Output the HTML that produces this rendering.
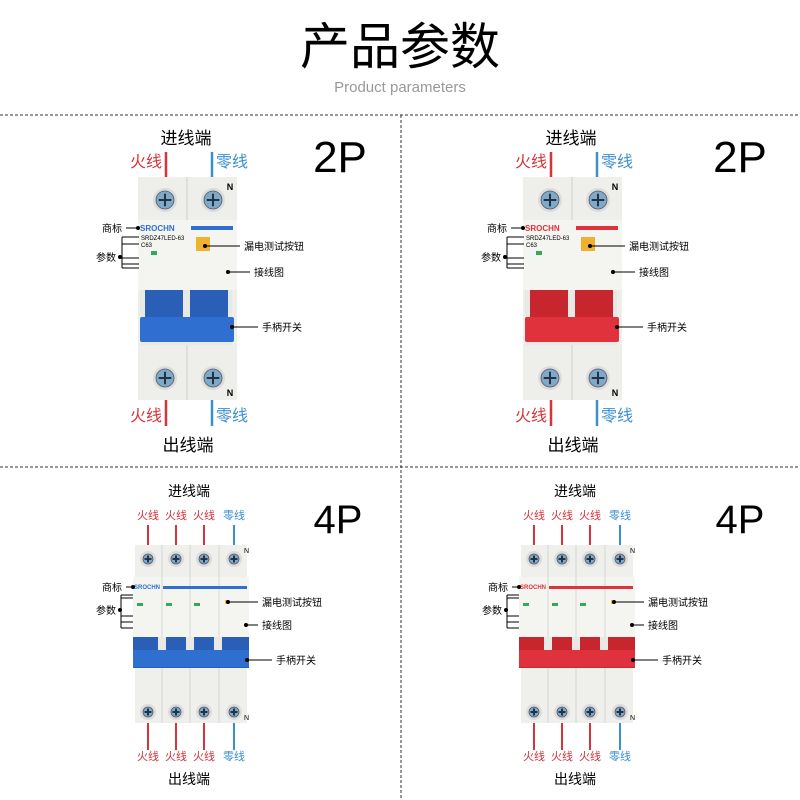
<!DOCTYPE html>
<html><head><meta charset="utf-8">
<style>
html,body{margin:0;padding:0;background:#fff;}
svg{display:block;font-family:"Liberation Sans","Noto Sans CJK SC",sans-serif;}
</style></head>
<body>
<svg id="s" width="800" height="800" viewBox="0 0 800 800" xmlns="http://www.w3.org/2000/svg">
<text x="400" y="64" font-size="50" text-anchor="middle" fill="#000" font-family="Noto Sans CJK SC, sans-serif">产品参数</text>
<text x="400" y="92" font-size="15" text-anchor="middle" fill="#999">Product parameters</text>
<line x1="0" y1="115" x2="800" y2="115" stroke="#333" stroke-dasharray="3,2"/>
<line x1="401" y1="115" x2="401" y2="800" stroke="#333" stroke-dasharray="3,2"/>
<line x1="0" y1="467" x2="800" y2="467" stroke="#333" stroke-dasharray="3,2"/>
<g id="g"></g>
</svg>
<script>
var R="#d6333a",B="#3a8fd0";
function screw(x,y,r){return `<circle cx="${x}" cy="${y}" r="${r+3}" fill="#dcdcdc"/><circle cx="${x}" cy="${y}" r="${r}" fill="#7fa9c9" stroke="#556" stroke-width="0.8"/><path d="M${x-r*0.7} ${y}H${x+r*0.7}M${x} ${y-r*0.7}V${y+r*0.7}" stroke="#234" stroke-width="2"/>`;}
function ann(x1,y,x2,label,anchorEnd){var t=anchorEnd?`<text x="${x1-4}" y="${y+4}" font-size="10" text-anchor="end">${label}</text>`:`<text x="${x2+4}" y="${y+4}" font-size="10">${label}</text>`;return `<line x1="${x1}" y1="${y}" x2="${x2}" y2="${y}" stroke="#000"/><circle cx="${anchorEnd?x2:x1}" cy="${y}" r="2" fill="#000"/>`+t;}
function p2(o,col,dk){
 var s=`<g transform="translate(${o},0)">`;
 s+=`<text x="186" y="144" font-size="17" text-anchor="middle">进线端</text>`;
 s+=`<text x="146" y="167" font-size="16" fill="${R}" text-anchor="middle">火线</text><line x1="166" y1="152" x2="166" y2="178" stroke="${R}" stroke-width="2.5"/>`;
 s+=`<text x="232" y="167" font-size="16" fill="${B}" text-anchor="middle">零线</text><line x1="212" y1="152" x2="212" y2="178" stroke="${B}" stroke-width="2.5"/>`;
 s+=`<rect x="138" y="177" width="99" height="223" fill="#eeeeea"/><line x1="187" y1="177" x2="187" y2="400" stroke="#cfcfcf"/>`;
 s+=`<rect x="138" y="220" width="99" height="70" fill="#f4f4f0"/>`;
 s+=screw(165,200,9)+screw(213,200,9)+screw(165,378,9)+screw(213,378,9);
 s+=`<text x="230" y="190" font-size="9" font-weight="bold" text-anchor="middle">N</text><text x="230" y="396" font-size="9" font-weight="bold" text-anchor="middle">N</text>`;
 s+=`<text x="140" y="231" font-size="8" fill="${col}" font-weight="bold">SROCHN</text><rect x="191" y="226" width="42" height="4" fill="${col}"/>`;
 s+=`<text x="141" y="240" font-size="6">SRDZ47LED-63</text><text x="141" y="247" font-size="6">C63</text><rect x="151" y="251" width="6" height="4" fill="#3a5"/>`;
 s+=`<rect x="196" y="237" width="14" height="14" fill="#f0b030"/>`;
 s+=`<rect x="140" y="290" width="92" height="55" fill="#e8e8e4"/><rect x="145" y="290" width="38" height="30" fill="${dk}"/><rect x="190" y="290" width="38" height="30" fill="${dk}"/>`;
 s+=`<rect x="140" y="317" width="94" height="25" rx="2" fill="${col}"/>`;
 s+=ann(126,228,138,"商标",true)+ann(120,257,120,"参数",true);
 s+=`<path d="M122 237V268M122 237H139M122 244H139M122 258H139M122 264H139M122 268H139" stroke="#000" fill="none"/>`;
 s+=ann(205,246,240,"漏电测试按钮",false)+ann(228,272,250,"接线图",false)+ann(232,327,258,"手柄开关",false);
 s+=`<text x="146" y="421" font-size="16" fill="${R}" text-anchor="middle">火线</text><line x1="166" y1="400" x2="166" y2="426" stroke="${R}" stroke-width="2.5"/>`;
 s+=`<text x="232" y="421" font-size="16" fill="${B}" text-anchor="middle">零线</text><line x1="212" y1="400" x2="212" y2="426" stroke="${B}" stroke-width="2.5"/>`;
 s+=`<text x="188" y="451" font-size="17" text-anchor="middle">出线端</text></g>`;
 return s;}
function p4(o,col,dk){
 var s=`<g transform="translate(${o},0)">`;
 s+=`<text x="189" y="496" font-size="14" text-anchor="middle">进线端</text>`;
 var xs=[148,176,204,234];
 xs.forEach(function(x,i){var c=i<3?R:B,l=i<3?"火线":"零线";
  s+=`<text x="${x}" y="519" font-size="11" fill="${c}" text-anchor="middle">${l}</text><line x1="${x}" y1="525" x2="${x}" y2="545" stroke="${c}" stroke-width="2"/>`;
  s+=`<text x="${x}" y="760" font-size="11" fill="${c}" text-anchor="middle">${l}</text><line x1="${x}" y1="723" x2="${x}" y2="750" stroke="${c}" stroke-width="2"/>`;});
 s+=`<rect x="135" y="545" width="112" height="178" fill="#efefec"/><rect x="133" y="577" width="116" height="60" fill="#f4f4f1"/>`;
 [162,190,219].forEach(function(x){s+=`<line x1="${x}" y1="545" x2="${x}" y2="723" stroke="#d6d6d6"/>`;});
 xs.forEach(function(x){s+=screw(x,559,5)+screw(x,712,5);});
 s+=`<text x="244" y="553" font-size="7">N</text><text x="244" y="720" font-size="7">N</text>`;
 s+=`<text x="134" y="589" font-size="6" fill="${col}" font-weight="bold">SROCHN</text><rect x="163" y="586" width="84" height="3" fill="${col}"/>`;
 s+=`<rect x="137" y="603" width="6" height="3" fill="#3a5"/><rect x="166" y="603" width="6" height="3" fill="#3a5"/><rect x="194" y="603" width="6" height="3" fill="#3a5"/><rect x="225" y="600" width="4" height="4" fill="#eb3"/>`;
 s+=`<rect x="133" y="637" width="116" height="31" fill="${dk}"/><rect x="133" y="650" width="116" height="17" fill="${col}"/>`;
 [158,186,214].forEach(function(x){s+=`<rect x="${x}" y="637" width="8" height="13" fill="#e8e8e4"/>`;});
 s+=ann(126,587,133,"商标",true)+ann(120,610,120,"参数",true);
 s+=`<path d="M121 595V628M121 595H133M121 598H133M121 616H133M121 622H133M121 628H133" stroke="#000" fill="none"/>`;
 s+=ann(228,602,258,"漏电测试按钮",false)+ann(246,625,258,"接线图",false)+ann(247,660,272,"手柄开关",false);
 s+=`<text x="189" y="784" font-size="14" text-anchor="middle">出线端</text></g>`;
 return s;}
var h=p2(0,"#2f6fd0","#2a5fb8")+p2(385,"#e0323c","#c8262f")+p4(0,"#2f6fd0","#2a5fb8")+p4(386,"#e0323c","#c8262f");
h+=`<text x="340" y="172" font-size="44" text-anchor="middle">2P</text><text x="740" y="172" font-size="44" text-anchor="middle">2P</text>`;
h+=`<text x="338" y="533" font-size="40" text-anchor="middle">4P</text><text x="740" y="533" font-size="40" text-anchor="middle">4P</text>`;
document.getElementById("g").innerHTML=h;
</script>
</body></html>
